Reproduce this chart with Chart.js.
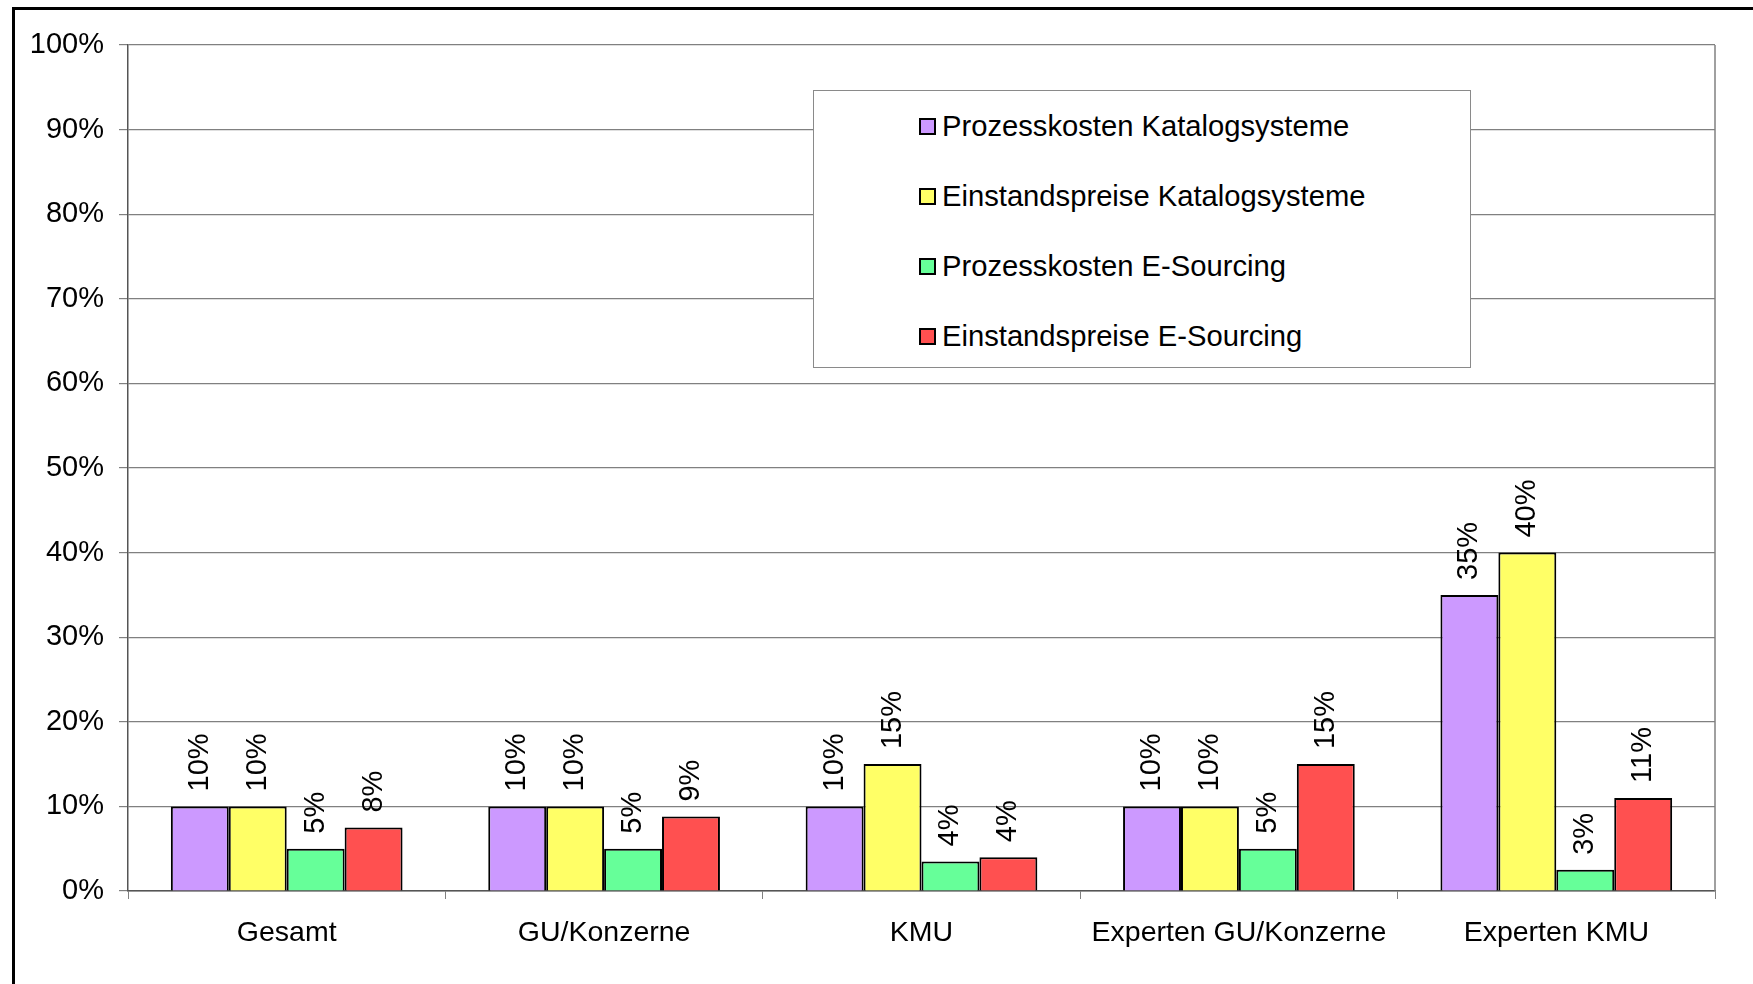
<!DOCTYPE html>
<html>
<head>
<meta charset="utf-8">
<script src="https://cdn.jsdelivr.net/npm/chart.js@4.4.0/dist/chart.umd.min.js"></script>
<style>
  html, body { margin: 0; padding: 0; background: #fff; overflow: hidden; }
  #wrap { position: relative; width: 1753px; height: 984px; }
  #frame { position: absolute; left: 12px; top: 7px; width: 1800px; height: 1100px; border: 3px solid #000; box-sizing: border-box; pointer-events: none; }
  #legend { position: absolute; left: 813px; top: 90px; width: 658px; height: 278px; border: 1.5px solid #8a8a8a; background: #fff; box-sizing: border-box; font-family: "Liberation Sans", Arial, sans-serif; font-size: 29.2px; color: #000; }
  .item { height: 70px; display: flex; align-items: center; padding-left: 105px; }
  .box { width: 13px; height: 13px; border: 2px solid #000; margin-right: 6px; flex: none; }
</style>
</head>
<body>
<div id="wrap">
  <canvas id="chart" width="1753" height="984"></canvas>
  <div id="legend"></div>
  <div id="frame"></div>
</div>
<script>
const categories = ['Gesamt', 'GU/Konzerne', 'KMU', 'Experten GU/Konzerne', 'Experten KMU'];
const seriesNames = ['Prozesskosten Katalogsysteme', 'Einstandspreise Katalogsysteme', 'Prozesskosten E-Sourcing', 'Einstandspreise E-Sourcing'];
const prozessKatalog = [10, 10, 10, 10, 35];
const einstandKatalog = [10, 10, 15, 10, 40];
const prozessSourcing = [5, 5, 3.5, 5, 2.5];
const einstandSourcing = [7.5, 8.8, 4, 15, 11];
const yTicks = [0, 10, 20, 30, 40, 50, 60, 70, 80, 90, 100];
const colors = ['#CC99FF', '#FFFF66', '#66FF99', '#FF5050'];

const FONT = '"Liberation Sans", Arial, sans-serif';

const values = [prozessKatalog, einstandKatalog, prozessSourcing, einstandSourcing];
const datasets = values.map((v, i) => ({
  label: seriesNames[i],
  data: v,
  backgroundColor: colors[i],
  borderColor: '#000',
  borderWidth: 2,
  borderSkipped: 'bottom',
  categoryPercentage: 0.73,
  barPercentage: 1.0,
}));

// legend as html
const legendEl = document.getElementById('legend');
seriesNames.forEach((name, i) => {
  const row = document.createElement('div');
  row.className = 'item';
  row.innerHTML = '<span class="box" style="background:' + colors[i] + '"></span><span>' + name + '</span>';
  legendEl.appendChild(row);
});

// rotated value labels above bars
const valueLabels = {
  id: 'valueLabels',
  afterDatasetsDraw(chart) {
    const ctx = chart.ctx;
    ctx.save();
    ctx.font = '29px ' + FONT;
    ctx.fillStyle = '#000';
    ctx.textAlign = 'left';
    ctx.textBaseline = 'middle';
    chart.data.datasets.forEach((ds, i) => {
      chart.getDatasetMeta(i).data.forEach((bar, j) => {
        ctx.save();
        ctx.translate(bar.x, bar.y - 15);
        ctx.rotate(-Math.PI / 2);
        ctx.fillText(Math.round(ds.data[j]) + '%', 0, 0);
        ctx.restore();
      });
    });
    ctx.restore();
  }
};

// right edge of the plot area
const plotEdge = {
  id: 'plotEdge',
  beforeDatasetsDraw(chart) {
    const { ctx, chartArea } = chart;
    ctx.save();
    ctx.strokeStyle = '#808080';
    ctx.lineWidth = 1.5;
    ctx.beginPath();
    ctx.moveTo(chartArea.right, chartArea.top);
    ctx.lineTo(chartArea.right, chartArea.bottom);
    ctx.stroke();
    ctx.restore();
  }
};

new Chart(document.getElementById('chart').getContext('2d'), {
  type: 'bar',
  data: { labels: categories, datasets: datasets },
  options: {
    responsive: false,
    animation: false,
    layout: { padding: { left: 0, top: 45, right: 38, bottom: 0 } },
    plugins: {
      legend: { display: false },
      tooltip: { enabled: false },
    },
    scales: {
      x: {
        afterFit(axis) { axis.height = 93; },
        grid: { offset: true, drawOnChartArea: false, drawTicks: true, tickLength: 8, color: '#808080' },
        border: { display: true, color: '#555', width: 1.5 },
        ticks: { color: '#000', font: { family: FONT, size: 28.5 }, padding: 17, maxRotation: 0 },
      },
      y: {
        min: 0,
        max: 100,
        afterFit(axis) { axis.width = 128; },
        afterBuildTicks(axis) { axis.ticks = yTicks.map(v => ({ value: v })); },
        grid: { color: '#808080', lineWidth: 1.2, drawTicks: true, tickLength: 9 },
        border: { display: true, color: '#555', width: 1.5 },
        ticks: {
          color: '#000',
          font: { family: FONT, size: 29 },
          padding: 15,
          callback: v => v + '%',
        },
      },
    },
  },
  plugins: [plotEdge, valueLabels],
});
</script>
</body>
</html>
